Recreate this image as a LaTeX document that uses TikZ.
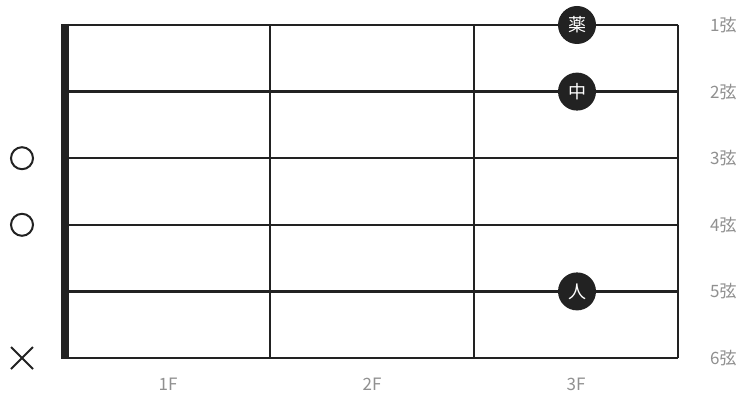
\documentclass[tikz,border=0pt]{standalone}
\usepackage{fontspec}
\newfontfamily\jp{Noto Sans CJK JP}
\definecolor{ink}{HTML}{222222}
\definecolor{lab}{HTML}{909090}
\begin{document}
\begin{tikzpicture}[x=1pt,y=-1pt,
  gridline/.style={draw=ink,line width=2.3pt},
  fingerdot/.style={circle,fill=ink,minimum size=38pt,inner sep=0pt,text=white,font=\jp\fontsize{18}{18}\selectfont},
  strlab/.style={text=lab,font=\jp\fontsize{17}{17}\selectfont},
  openmark/.style={circle,draw=ink,line width=2pt,minimum size=22pt,inner sep=0pt},
]
\useasboundingbox[fill=white] (0,0) rectangle (749,406);
% strings
\foreach \i/\y in {1/25,2/91.6,3/158.2,4/224.8,5/291.4,6/358}{
  \coordinate (sL\i) at (65,\y);
  \coordinate (sR\i) at (678,\y);
  \draw[gridline] (sL\i) -- (sR\i);
  \node[strlab,anchor=west,inner sep=0pt] (lab\i) at (710,\y) {\i{}弦};
}
% frets
\foreach \j/\x in {1/270,2/474,3/678}{
  \coordinate (fT\j) at (\x,25);
  \coordinate (fB\j) at (\x,358);
  \draw[gridline] (fT\j) -- (fB\j);
}
% nut
\coordinate (nT) at (65,23.9);
\coordinate (nB) at (65,359.1);
\draw[ink,line width=7.5pt] (nT) -- (nB);
% fret labels
\node[strlab] (F1) at (168,384) {1F};
\node[strlab] (F2) at (372,384) {2F};
\node[strlab] (F3) at (576,384) {3F};
% finger dots
\node[fingerdot] (d1) at (577,25) {薬};
\node[fingerdot] (d2) at (577,91.6) {中};
\node[fingerdot] (d5) at (577,291.4) {人};
% open / mute markers
\node[openmark] (o3) at (22,158.2) {};
\node[openmark] (o4) at (22,224.8) {};
\coordinate (x6) at (22,358);
\draw[ink,line width=2pt] ([shift={(-11,-11)}]x6) -- ([shift={(11,11)}]x6)
  ([shift={(-11,11)}]x6) -- ([shift={(11,-11)}]x6);
\end{tikzpicture}
\end{document}
